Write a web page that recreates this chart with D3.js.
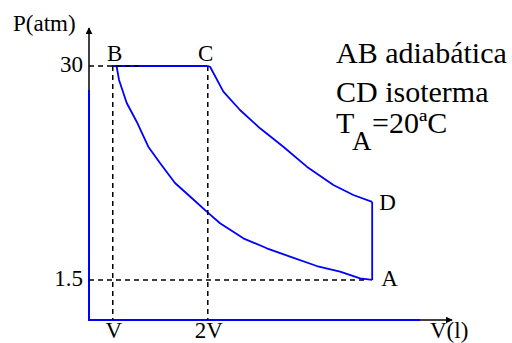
<!DOCTYPE html>
<html>
<head>
<meta charset="utf-8">
<script src="https://cdn.jsdelivr.net/npm/d3@7"></script>
<style>
  body { margin: 0; background: #fff; }
  svg { display: block; }
</style>
</head>
<body>
<div id="chart"></div>
<script>
// volume in units of V, pressure in atm
var curveAB = [[1.04, 30], [1.066, 28.14], [1.147, 25.07], [1.252, 22.58], [1.374, 19.25],
  [1.497, 17.08], [1.655, 14.42], [1.831, 12.42], [1.989, 10.6], [2.129, 9.05],
  [2.374, 7.05], [2.621, 5.72], [2.866, 4.6], [3.147, 3.36], [3.392, 2.6],
  [3.603, 1.72], [3.73, 1.5]];
var curveCD = [[2.0, 30], [2.024, 29.9], [2.164, 26.58], [2.339, 24.14], [2.55, 21.7],
  [2.795, 19.25], [3.042, 16.59], [3.322, 14.15], [3.532, 12.82], [3.73, 11.9]];
var segBC = [[0.99, 30], [2.0, 30]];
var segDA = [[3.73, 11.9], [3.73, 1.5]];
var points = [
  { name: "B", v: 1.0, p: 30 },
  { name: "C", v: 2.0, p: 30 },
  { name: "D", v: 3.73, p: 11.9 },
  { name: "A", v: 3.73, p: 1.5 }
];
var yTicks = [30, 1.5];
var xTicks = [{ v: 1, label: "V" }, { v: 2, label: "2V" }];
var notes = ["AB adiabática", "CD isoterma"];
var tempNote = { main: "T", sub: "A", rest: "=20ªC" };
var vDomain = [0.75, 4.57];
var pDomain = [-3.83, 35.06];
var blueAxisTopP = 26.8;   // y axis turns blue below this
var blueAxisRightV = 4.234; // x axis is blue up to this

var width = 512, height = 343;
var font = "'Liberation Serif', 'Times New Roman', 'DejaVu Serif', serif";
var svg = d3.select("#chart").append("svg")
  .attr("width", width).attr("height", height);

var x = d3.scaleLinear().domain(vDomain).range([89, 452]);
var y = d3.scaleLinear().domain(pDomain).range([320, 28]);

var blue = "#0000ff";

svg.append("defs").append("marker")
  .attr("id", "arrow")
  .attr("viewBox", "0 0 10 10")
  .attr("refX", 9).attr("refY", 5)
  .attr("markerWidth", 7).attr("markerHeight", 7)
  .attr("markerUnits", "userSpaceOnUse")
  .attr("orient", "auto")
  .append("path").attr("d", "M0,0L10,5L0,10z").attr("fill", "#000");

var line = d3.line()
  .x(function(d) { return x(d[0]); })
  .y(function(d) { return y(d[1]); });

// axes: black parts with arrows, blue parts along the box
svg.append("line")
  .attr("x1", x(vDomain[0])).attr("y1", y(blueAxisTopP))
  .attr("x2", x(vDomain[0])).attr("y2", y(pDomain[1]))
  .attr("stroke", "#000").attr("stroke-width", 1.5)
  .attr("marker-end", "url(#arrow)");
svg.append("line")
  .attr("x1", x(blueAxisRightV)).attr("y1", y(pDomain[0]))
  .attr("x2", x(vDomain[1])).attr("y2", y(pDomain[0]))
  .attr("stroke", "#000").attr("stroke-width", 1.5)
  .attr("marker-end", "url(#arrow)");
svg.append("path")
  .attr("d", line([[vDomain[0], blueAxisTopP], [vDomain[0], pDomain[0]], [blueAxisRightV, pDomain[0]]]))
  .attr("fill", "none").attr("stroke", blue).attr("stroke-width", 2);

// cycle
[curveAB, curveCD, segBC, segDA].forEach(function(seg) {
  svg.append("path")
    .attr("d", line(seg))
    .attr("fill", "none")
    .attr("stroke", blue)
    .attr("stroke-width", 1.8)
    .attr("stroke-linejoin", "round");
});

// dashed guide lines
var dash = function(a, b) {
  svg.append("path")
    .attr("d", line([a, b]))
    .attr("fill", "none")
    .attr("stroke", "#000")
    .attr("stroke-width", 1.5)
    .attr("stroke-dasharray", "5,4");
};
dash([vDomain[0], 30], [1.3, 30]);
dash([vDomain[0], 1.5], [3.65, 1.5]);
dash([1, 30], [1, pDomain[0]]);
dash([2, 30], [2, pDomain[0]]);

function label(sel, size) {
  return sel.attr("font-family", font).attr("font-size", size).attr("fill", "#000");
}

// tick labels
label(svg.selectAll(".ylab").data(yTicks).enter().append("text"), 23)
  .attr("x", x(vDomain[0]) - 6)
  .attr("y", function(d) { return y(d) + 6; })
  .attr("text-anchor", "end")
  .text(function(d) { return d; });

label(svg.selectAll(".xlab").data(xTicks).enter().append("text"), 23)
  .attr("x", function(d) { return x(d.v) + 1; })
  .attr("y", 338)
  .attr("text-anchor", "middle")
  .text(function(d) { return d.label; });

label(svg.append("text"), 23).attr("x", 13).attr("y", 31).text("P(atm)");
label(svg.append("text"), 23).attr("x", 430).attr("y", 338).text("V(l)");

// point labels
var labelOffset = { B: [2, -5, "middle"], C: [-2, -5, "middle"], D: [7, 8, "start"], A: [9, 6, "start"] };
label(svg.selectAll(".pt").data(points).enter().append("text"), 23)
  .attr("x", function(d) { return x(d.v) + labelOffset[d.name][0]; })
  .attr("y", function(d) { return y(d.p) + labelOffset[d.name][1]; })
  .attr("text-anchor", function(d) { return labelOffset[d.name][2]; })
  .text(function(d) { return d.name; });

// notes on the right
label(svg.selectAll(".note").data(notes).enter().append("text"), 30)
  .attr("x", 336)
  .attr("y", function(d, i) { return 63 + i * 39; })
  .text(function(d) { return d; });
label(svg.append("text"), 30).attr("x", 336).attr("y", 133).text(tempNote.main);
label(svg.append("text"), 27).attr("x", 352).attr("y", 150).text(tempNote.sub);
label(svg.append("text"), 30).attr("x", 372).attr("y", 133).text(tempNote.rest);
</script>
</body>
</html>
